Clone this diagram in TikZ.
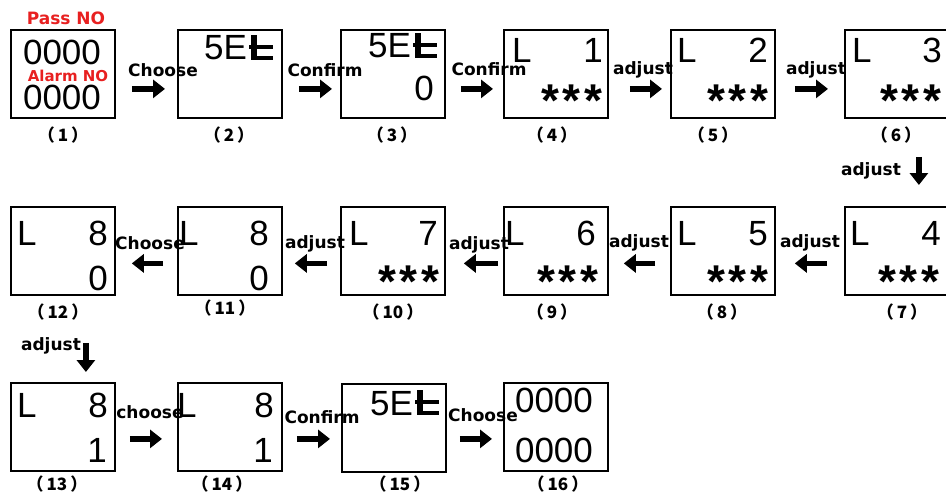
\documentclass[tikz,border=0pt]{standalone}
\usepackage{fontspec}
\setmainfont{Liberation Sans}
\newfontfamily\lblfont{DejaVu Sans}
\newfontfamily\cjkfont{Noto Sans CJK SC}
\usetikzlibrary{arrows.meta,calc}
\definecolor{pnred}{RGB}{232,32,32}
\newcommand\tglyph[1]{%
  \fill ($(#1.base east)+(4,0)$) rectangle ++(5.5,-25);
  \fill ($(#1.base east)+(2,-11)$) rectangle ++(24,-3.6);
  \fill ($(#1.base east)+(4,0)$) rectangle ++(22,-3.6);
}
\newcommand\stars{*\kern4pt*\kern4pt*}
\newcommand\stepno[1]{（\kern3pt#1\kern3pt）}
\begin{document}
\begin{tikzpicture}[x=1pt,y=-1pt,
  box/.style={draw, line width=1.8pt, minimum width=104pt, minimum height=88pt, inner sep=0pt, anchor=north west},
  dig/.style={font=\fontsize{35}{35}\selectfont, inner sep=0pt},
  ast/.style={font=\fontsize{46}{46}\selectfont\bfseries, inner sep=0pt, anchor=base east},
  lbl/.style={font=\lblfont\bfseries\fontsize{17}{17}\selectfont, inner sep=0pt, anchor=base},
  red/.style={font=\lblfont\bfseries\fontsize{#1}{#1}\selectfont, text=pnred, inner sep=0pt, anchor=base},
  num/.style={font=\cjkfont\bfseries\fontsize{17}{17}\selectfont, inner sep=0pt},
  arr/.style={line width=5.5pt, -{Triangle[length=12pt,width=18pt]}}
]
\useasboundingbox (0,0) rectangle (946,495);
\fill[white] (0,0) rectangle (946,495);

% ---------- Row 1 boxes
\node[box] (b1) at (10,29) {};
\node[box] (b2) at (177,29) {};
\node[box] (b3) at (340,29) {};
\node[box] (b4) at (503,29) {};
\node[box] (b5) at (670,29) {};
\node[box] (b6) at (844,29) {};
% ---------- Row 2 boxes
\node[box] (b12) at (10,206) {};
\node[box] (b11) at (177,206) {};
\node[box] (b10) at (340,206) {};
\node[box] (b9) at (503,206) {};
\node[box] (b8) at (670,206) {};
\node[box] (b7) at (844,206) {};
% ---------- Row 3 boxes
\node[box] (b13) at (10,382) {};
\node[box] (b14) at (177,382) {};
\node[box] (b15) at (341,383) {};
\node[box] (b16) at (503,382) {};

% ---------- Box contents
\node[red=17] (pass) at (66,25) {Pass NO};
\node[dig, anchor=base] (b1a) at (62,65) {0000};
\node[red=15] (alarm) at (68,82) {Alarm NO};
\node[dig, anchor=base] (b1b) at (62,110) {0000};

\node[dig, anchor=base west] (s2) at (204,60) {5E}; \tglyph{s2}
\node[dig, anchor=base west] (s3) at (368,58) {5E}; \tglyph{s3}
\node[dig, anchor=base east] (b3b) at (434,100) {0};

\node[dig, anchor=base west] (b4L) at (512,63) {L};
\node[dig, anchor=base east] (b4n) at (603,63) {1};
\node[ast] (b4s) at (603,117) {\stars};
\node[dig, anchor=base west] (b5L) at (677,63) {L};
\node[dig, anchor=base east] (b5n) at (768,63) {2};
\node[ast] (b5s) at (769,117) {\stars};
\node[dig, anchor=base west] (b6L) at (852,63) {L};
\node[dig, anchor=base east] (b6n) at (942,63) {3};
\node[ast] (b6s) at (942,117) {\stars};

\node[dig, anchor=base west] (b7L) at (850,245) {L};
\node[dig, anchor=base east] (b7n) at (941,245) {4};
\node[ast] (b7s) at (940,297) {\stars};
\node[dig, anchor=base west] (b8L) at (677,245) {L};
\node[dig, anchor=base east] (b8n) at (768,245) {5};
\node[ast] (b8s) at (769,297) {\stars};
\node[dig, anchor=base west] (b9L) at (505,245) {L};
\node[dig, anchor=base east] (b9n) at (596,245) {6};
\node[ast] (b9s) at (599,297) {\stars};
\node[dig, anchor=base west] (b10L) at (349,245) {L};
\node[dig, anchor=base east] (b10n) at (438,245) {7};
\node[ast] (b10s) at (440,297) {\stars};
\node[dig, anchor=base west] (b11L) at (179,245) {L};
\node[dig, anchor=base east] (b11n) at (269,245) {8};
\node[dig, anchor=base east] (b11b) at (269,290) {0};
\node[dig, anchor=base west] (b12L) at (17,245) {L};
\node[dig, anchor=base east] (b12n) at (108,245) {8};
\node[dig, anchor=base east] (b12b) at (108,290) {0};

\node[dig, anchor=base west] (b13L) at (17,417) {L};
\node[dig, anchor=base east] (b13n) at (108,417) {8};
\node[dig, anchor=base east] (b13b) at (107,462) {1};
\node[dig, anchor=base west] (b14L) at (177,417) {L};
\node[dig, anchor=base east] (b14n) at (274,417) {8};
\node[dig, anchor=base east] (b14b) at (273,462) {1};
\node[dig, anchor=base west] (s15) at (370,415) {5E}; \tglyph{s15}
\node[dig, anchor=base] (b16a) at (554,412) {0000};
\node[dig, anchor=base] (b16b) at (554,462) {0000};

% ---------- Step numbers
\node[num] (n1) at (63,135) {\stepno{1}};
\node[num] (n2) at (229,135) {\stepno{2}};
\node[num] (n3) at (392,135) {\stepno{3}};
\node[num] (n4) at (552,135) {\stepno{4}};
\node[num] (n5) at (713,135) {\stepno{5}};
\node[num] (n6) at (896,135) {\stepno{6}};
\node[num] (n12) at (58,312) {\stepno{12}};
\node[num] (n11) at (225,308) {\stepno{11}};
\node[num] (n10) at (393,312) {\stepno{10}};
\node[num] (n9) at (552,312) {\stepno{9}};
\node[num] (n8) at (722,312) {\stepno{8}};
\node[num] (n7) at (902,312) {\stepno{7}};
\node[num] (n13) at (57,484) {\stepno{13}};
\node[num] (n14) at (222,484) {\stepno{14}};
\node[num] (n15) at (400,484) {\stepno{15}};
\node[num] (n16) at (558,484) {\stepno{16}};

% ---------- Connectors, row 1
\draw[arr, shorten <=16pt, shorten >=12pt] ([yshift=-15pt]b1.east) -- ([yshift=-15pt]b2.west);
\draw[arr, shorten <=16pt, shorten >=8pt] ([yshift=-15pt]b2.east) -- ([yshift=-15pt]b3.west);
\draw[arr, shorten <=15pt, shorten >=10pt] ([yshift=-15pt]b3.east) -- ([yshift=-15pt]b4.west);
\draw[arr, shorten <=21pt, shorten >=8pt] ([yshift=-15pt]b4.east) -- ([yshift=-15pt]b5.west);
\draw[arr, shorten <=19pt, shorten >=16pt] ([yshift=-15pt]b5.east) -- ([yshift=-15pt]b6.west);
\draw[arr, shorten <=38pt, shorten >=21pt] ([xshift=22pt]b6.south) -- ([xshift=22pt]b7.north);
% row 2
\draw[arr, shorten <=17pt, shorten >=19pt] ([yshift=-12.5pt]b7.west) -- ([yshift=-12.5pt]b8.east);
\draw[arr, shorten <=15pt, shorten >=15pt] ([yshift=-12.5pt]b8.west) -- ([yshift=-12.5pt]b9.east);
\draw[arr, shorten <=5pt, shorten >=18pt] ([yshift=-12.5pt]b9.west) -- ([yshift=-12.5pt]b10.east);
\draw[arr, shorten <=13pt, shorten >=12pt] ([yshift=-12.5pt]b10.west) -- ([yshift=-12.5pt]b11.east);
\draw[arr, shorten <=14pt, shorten >=16pt] ([yshift=-12.5pt]b11.west) -- ([yshift=-12.5pt]b12.east);
\draw[arr, shorten <=47pt, shorten >=10pt] ([xshift=23pt]b12.south) -- ([xshift=23pt]b13.north);
% row 3
\draw[arr, shorten <=14pt, shorten >=15pt] ([yshift=-12pt]b13.east) -- ([yshift=-12pt]b14.west);
\draw[arr, shorten <=14pt, shorten >=11pt] ([yshift=-12pt]b14.east) -- ([yshift=-12pt]b14.east -| b15.west);
\draw[arr, shorten <=13pt, shorten >=11pt] ([yshift=-12pt]b16.west -| b15.east) -- ([yshift=-12pt]b16.west);

% ---------- Connector labels
\node[lbl] (l12) at (163,77) {Choose};
\node[lbl] (l23) at (325,77) {Confirm};
\node[lbl] (l34) at (489,76) {Confirm};
\node[lbl] (l45) at (643,75) {adjust};
\node[lbl] (l56) at (816,75) {adjust};
\node[lbl] (l67) at (871,175) {adjust};
\node[lbl] (l78) at (810,247) {adjust};
\node[lbl] (l89) at (639,247) {adjust};
\node[lbl] (l910) at (479,249) {adjust};
\node[lbl] (l1011) at (315,248) {adjust};
\node[lbl] (l1112) at (150,249) {Choose};
\node[lbl] (l1213) at (51,350) {adjust};
\node[lbl] (l1314) at (150,418) {choose};
\node[lbl] (l1415) at (322,423) {Confirm};
\node[lbl] (l1516) at (483,421) {Choose};
\end{tikzpicture}
\end{document}
